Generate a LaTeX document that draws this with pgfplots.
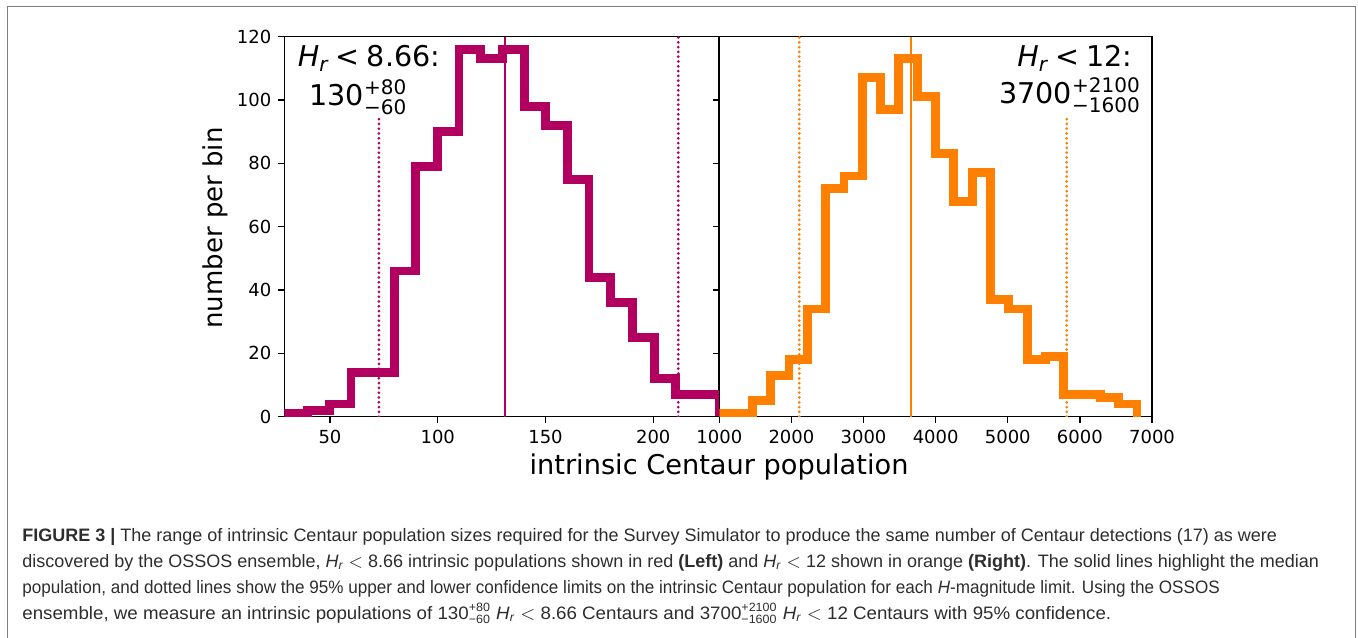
\documentclass[border=0pt]{standalone}
\usepackage{fontspec}
\setmainfont{DejaVu Sans}
\newfontfamily\capfont{Liberation Sans}
\usepackage{amsmath}
\usepackage{graphicx}
\usepackage{pgfplots}
\pgfplotsset{compat=1.18}

\definecolor{hmag}{RGB}{178,0,96}
\definecolor{horange}{RGB}{255,127,0}
\definecolor{framegray}{RGB}{125,125,125}
\definecolor{captext}{RGB}{45,45,45}

% step outlines: bin left edge, count
\pgfplotstableread{
x y
29.5 0
29.5 1
39.6 2
49.6 4
59.7 14
69.7 14
79.8 46
89.8 79
99.9 90
109.9 116
120.0 113
130.0 116
140.1 98
150.1 92
160.2 75
170.2 44
180.3 36
190.3 25
200.4 12
210.4 7
220.5 7
230.5 0
}\lefthist

\pgfplotstableread{
x y
950 0
950 1
1458 5
1712 13
1966 18
2220 34
2474 72
2728 76
2982 107
3236 97
3490 113
3744 101
3998 83
4252 68
4506 77
4760 37
5014 34
5268 18
5522 19
5776 7
6030 7
6284 6
6538 4
6792 0
}\righthist

\pgfplotsset{
  panel/.style={
    scale only axis, height=190pt, anchor=south west,
    ymin=0, ymax=120, ytick={0,20,...,120},
    axis line style={line width=0.8pt},
    tick align=outside, major tick length=3pt,
    tick style={line width=0.7pt, black},
    xtick pos=bottom, ytick pos=left,
    tick label style={font=\fontsize{9}{9}\selectfont},
    /pgf/number format/assume math mode=true,
    /pgf/number format/1000 sep={},
  },
  hist/.style={line width=4.4pt, line join=miter, const plot mark left, mark=none},
  med/.style={line width=1.2pt},
  lim/.style={line width=1.5pt, line cap=round, dash pattern=on 0pt off 2.4pt},
}

\begin{document}
\begin{tikzpicture}
\begin{axis}[panel, at={(142.15pt,110.15pt)}, width=217.35pt,
  xmin=28.8, xmax=230.5, xtick={50,100,150,200}]
  \addplot[hist, hmag] table {\lefthist};
  \addplot[med, hmag] coordinates {(131.2,0) (131.2,120)};
  \addplot[lim, hmag] coordinates {(72.7,0) (72.7,94)};
  \addplot[lim, hmag] coordinates {(211.6,0) (211.6,120)};
  \node[anchor=base, font=\fontsize{14.3}{15}\selectfont] at (axis cs:68.1,110.5)
    {{\itshape H}$_{\text{\itshape r}}$\kern0.25em<\kern0.25em8.66:};
  \node[anchor=base, font=\fontsize{14.3}{15}\selectfont] at (axis cs:63.2,98.4)
    {130$^{\text{+80}}_{\text{−60}}$};
\end{axis}
\begin{axis}[panel, at={(359.65pt,110.15pt)}, width=216.35pt,
  xmin=1000, xmax=7000, xtick={1000,2000,...,7000}, yticklabels={}]
  \addplot[hist, horange] table {\righthist};
  \addplot[med, horange] coordinates {(3654,0) (3654,120)};
  \addplot[lim, horange] coordinates {(2109,0) (2109,120)};
  \addplot[lim, horange] coordinates {(5817,0) (5817,94)};
  \node[anchor=base, font=\fontsize{14.3}{15}\selectfont] at (axis cs:5932,110.5)
    {{\itshape H}$_{\text{\itshape r}}$\kern0.25em<\kern0.25em12:};
  \node[anchor=base, font=\fontsize{14.3}{15}\selectfont] at (axis cs:5863,99)
    {3700$^{\text{+2100}}_{\text{−1600}}$};
\end{axis}

% axis labels
\node[font=\fontsize{13.6}{14}\selectfont] at (359.5pt,85pt) {intrinsic Centaur population};
\node[font=\fontsize{13}{13}\selectfont, rotate=90] at (107.5pt,204.5pt) {number per bin};

% frame
\draw[framegray, line width=0.9pt] (3.75pt,-2pt) -- (3.75pt,315.25pt) -- (677.75pt,315.25pt) -- (677.75pt,-2pt);

% caption, one node per printed line
\begin{scope}[every node/.style={anchor=base west, inner sep=0pt, text=captext,
    font=\capfont\fontsize{9}{10}\selectfont}]
\node at (11pt,47.9pt) {\textbf{FIGURE 3 |} The range of intrinsic Centaur population sizes required for the Survey Simulator to produce the same number of Centaur detections (17) as were};
\node at (11pt,34.9pt) {discovered by the OSSOS ensemble, $\text{\itshape H}_{\text{\itshape r}} < \text{8.66}$ intrinsic populations shown in red \textbf{(Left)} and $\text{\itshape H}_{\text{\itshape r}} < \text{12}$ shown in orange \textbf{(Right)}. The solid lines highlight the median};
\node at (11pt,21.9pt) {\scalebox{0.95}[1]{population, and dotted lines show the 95\% upper and lower confidence limits on the intrinsic Centaur population for each {\itshape H}-magnitude limit. Using the OSSOS}};
\node at (11pt,8.75pt) {\scalebox{1.04}[1]{ensemble, we measure an intrinsic populations of $\text{130}^{\text{+80}}_{\text{−60}}$ $\text{\itshape H}_{\text{\itshape r}} < \text{8.66}$ Centaurs and $\text{3700}^{\text{+2100}}_{\text{−1600}}$ $\text{\itshape H}_{\text{\itshape r}} < \text{12}$ Centaurs with 95\% confidence.}};
\end{scope}

\pgfresetboundingbox
\path[use as bounding box] (0pt,0pt) rectangle (679pt,318.5pt);
\end{tikzpicture}
\end{document}
